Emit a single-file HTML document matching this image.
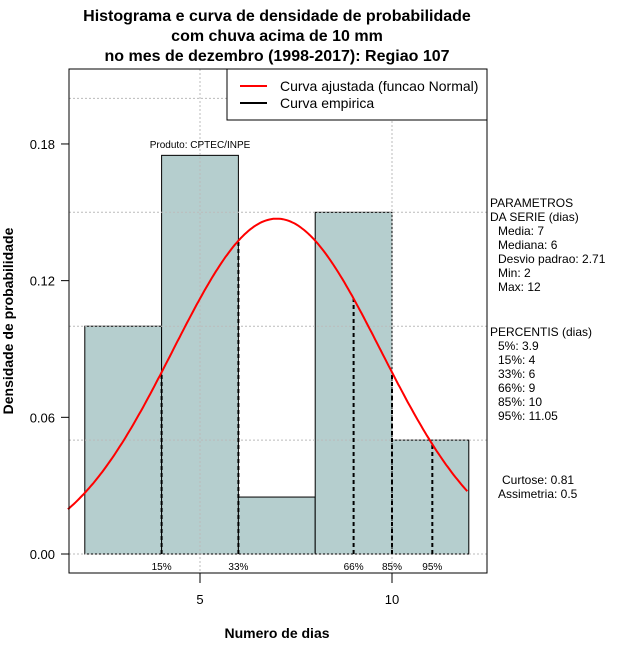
<!DOCTYPE html>
<html><head><meta charset="utf-8"><style>
body{margin:0;background:#fff}
svg{display:block;font-family:"Liberation Sans","DejaVu Sans",sans-serif}
</style></head><body>
<svg id="chart" width="640" height="660" viewBox="0 0 640 660">
<rect width="640" height="660" fill="#fff"/>
<g font-weight="bold" font-size="16" text-anchor="middle" fill="#000">
<text x="277" y="21">Histograma e curva de densidade de probabilidade</text>
<text x="277" y="41">com chuva acima de 10 mm</text>
<text x="277" y="61">no mes de dezembro (1998-2017): Regiao 107</text>
</g>
<g id="bars"></g>
<g id="grid"></g>
<g id="pct"></g>
<path id="curve" fill="none" stroke="#f00" stroke-width="2"/>
<rect x="69" y="69" width="418" height="504" fill="none" stroke="#000"/>
<g id="axes" font-size="13" fill="#000"></g>
<text x="200" y="148" font-size="10" text-anchor="middle">Produto: CPTEC/INPE</text>
<g>
<rect x="227" y="69" width="260" height="51" fill="#fff" stroke="#000"/>
<line x1="240" y1="86" x2="267" y2="86" stroke="#f00" stroke-width="2"/>
<text x="280" y="91" font-size="14">Curva ajustada (funcao Normal)</text>
<line x1="240" y1="103" x2="267" y2="103" stroke="#000" stroke-width="2"/>
<text x="280" y="108" font-size="14">Curva empirica</text>
</g>
<text x="277" y="638" font-size="14" font-weight="bold" text-anchor="middle">Numero de dias</text>
<text transform="translate(13,321) rotate(-90)" font-size="14" font-weight="bold" text-anchor="middle">Densidade de probabilidade</text>
<g font-size="12" fill="#000">
<text x="490" y="207">PARAMETROS</text>
<text x="490" y="221">DA SERIE (dias)</text>
<text x="498" y="235">Media: 7</text>
<text x="498" y="249">Mediana: 6</text>
<text x="498" y="263">Desvio padrao: 2.71</text>
<text x="498" y="277">Min: 2</text>
<text x="498" y="291">Max: 12</text>
<text x="490" y="336">PERCENTIS (dias)</text>
<text x="498" y="350">5%: 3.9</text>
<text x="498" y="364">15%: 4</text>
<text x="498" y="378">33%: 6</text>
<text x="498" y="392">66%: 9</text>
<text x="498" y="406">85%: 10</text>
<text x="498" y="420">95%: 11.05</text>
<text x="502" y="484">Curtose: 0.81</text>
<text x="498" y="498">Assimetria: 0.5</text>
</g>
</svg>
<script>
const binEdges=[2,4,6,8,10,12];
const binDensity=[0.10,0.175,0.025,0.15,0.05];
const yTicks=[0,0.06,0.12,0.18];
const yTickLabels=["0.00","0.06","0.12","0.18"];
const yGrid=[0,0.05,0.10,0.15,0.20];
const xTicks=[5,10];
const pctValues=[4,6,9,10,11.05];
const pctLabels=["15%","33%","66%","85%","95%"];
const mean=7, sd=2.71;
const NS="http://www.w3.org/2000/svg";
const X=v=>200+(v-5)*38.4;
const Y=v=>554-v*2278;
const dens=x=>Math.exp(-0.5*((x-mean)/sd)**2)/(sd*Math.sqrt(2*Math.PI));
function mk(tag,attrs,parent){const e=document.createElementNS(NS,tag);for(const k in attrs)e.setAttribute(k,attrs[k]);parent.appendChild(e);return e;}
const grid=document.getElementById('grid');
yGrid.forEach(v=>{const l=mk('line',{x1:69,x2:487,y1:Y(v),y2:Y(v),stroke:'#bbb','stroke-dasharray':'2,2'},grid);

});
xTicks.forEach(v=>{const l=mk('line',{x1:X(v),x2:X(v),y1:69,y2:573,stroke:'#bbb','stroke-dasharray':'2,2'},grid);

});
const bars=document.getElementById('bars');
binDensity.forEach((d,i)=>{const r=mk('rect',{x:X(binEdges[i]),y:Y(d),width:X(binEdges[i+1])-X(binEdges[i]),height:Y(0)-Y(d),fill:'#b5cece',stroke:'#000'},bars);

});
const pct=document.getElementById('pct');
pctValues.forEach((v,i)=>{const l=mk('line',{x1:X(v),x2:X(v),y1:Y(0),y2:Y(dens(v)),stroke:'#000','stroke-width':2,'stroke-dasharray':'4,3'},pct);


const t=mk('text',{x:X(v),y:570,'font-size':10,'text-anchor':'middle'},pct);t.textContent=pctLabels[i];

});
let d='';for(let x=1.56;x<=12.0001;x+=0.05){d+=(d?'L':'M')+X(x).toFixed(1)+','+Y(dens(x)).toFixed(1);}
document.getElementById('curve').setAttribute('d',d);
const axes=document.getElementById('axes');
yTicks.forEach((v,i)=>{mk('line',{x1:61,x2:69,y1:Y(v),y2:Y(v),stroke:'#000'},axes);
const t=mk('text',{x:55,y:Y(v)+5,'text-anchor':'end'},axes);t.textContent=yTickLabels[i];

});
xTicks.forEach(v=>{mk('line',{x1:X(v),x2:X(v),y1:573,y2:583,stroke:'#000'},axes);
const t=mk('text',{x:X(v),y:604,'text-anchor':'middle'},axes);t.textContent=v;

});
</script>
</body></html>
